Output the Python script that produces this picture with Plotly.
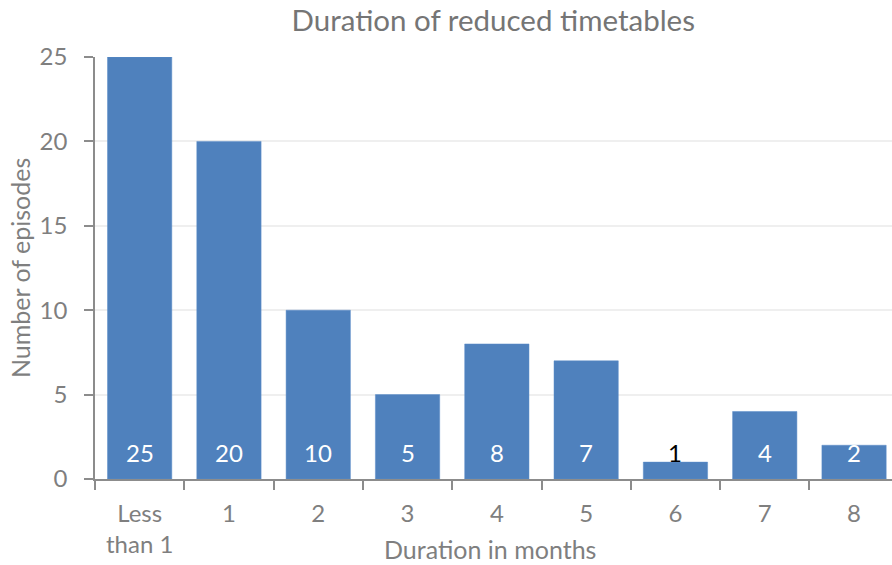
import plotly.graph_objects as go

categories = ["Less<br>than 1", "1", "2", "3", "4", "5", "6", "7", "8"]
episodes = [25, 20, 10, 5, 8, 7, 1, 4, 2]
label_colors = ["white", "white", "white", "white", "white", "white", "black", "white", "white"]

FONT = "Lato"
GRAY = "#7f7f7f"

fig = go.Figure()
fig.add_trace(go.Bar(
    x=categories, y=episodes,
    marker=dict(color="#4f81bd", line=dict(color="#5b8cc8", width=0.5)),
    width=0.72,
    hoverinfo="x+y",
))

for c, v, col in zip(categories, episodes, label_colors):
    fig.add_annotation(x=c, y=0, text=str(v), showarrow=False,
                       yanchor="middle", yshift=27,
                       font=dict(family=FONT, size=24, color=col))

# axis titles as paper annotations
fig.add_annotation(xref="paper", yref="paper", x=-0.094, y=0.5,
                   text="Number of episodes", textangle=-90, showarrow=False,
                   xanchor="center", yanchor="middle",
                   font=dict(family=FONT, size=25, color=GRAY))
fig.add_annotation(xref="paper", yref="paper", x=0.4956, y=-0.166,
                   text="Duration in months", showarrow=False,
                   xanchor="center", yanchor="middle",
                   font=dict(family=FONT, size=25, color=GRAY))

fig.update_layout(
    width=892, height=565,
    margin=dict(l=95, r=0, t=57, b=86, autoexpand=False),
    paper_bgcolor="white", plot_bgcolor="white",
    showlegend=False,
    title=dict(text="Duration of reduced timetables", x=0.553, xanchor="center",
               y=0.963, yanchor="middle",
               font=dict(family=FONT, size=29.5, color="#757575")),
    font=dict(family=FONT, color=GRAY),
    bargap=0.28,
)
fig.update_xaxes(
    type="category", range=[-0.5, 8.425],
    showline=True, linecolor="#8c8c8c", linewidth=1.5,
    ticks="outside", tickson="boundaries", ticklen=9, tickcolor="#8c8c8c", tickwidth=1.5,
    showgrid=False, automargin=False,
    tickfont=dict(family=FONT, size=24, color=GRAY),
    ticklabelstandoff=12,
)
fig.update_yaxes(
    range=[0, 25], dtick=5,
    showline=True, linecolor="#8c8c8c", linewidth=1.5,
    ticks="outside", ticklen=9, tickcolor="#8c8c8c", tickwidth=1.5,
    showgrid=True, gridcolor="#efefef", gridwidth=1.5,
    zeroline=False, automargin=False,
    tickfont=dict(family=FONT, size=24, color=GRAY),
    ticklabelstandoff=12,
)

fig.write_html("out.html", config={"displayModeBar": False},
               post_script="document.body.style.margin='0';")
